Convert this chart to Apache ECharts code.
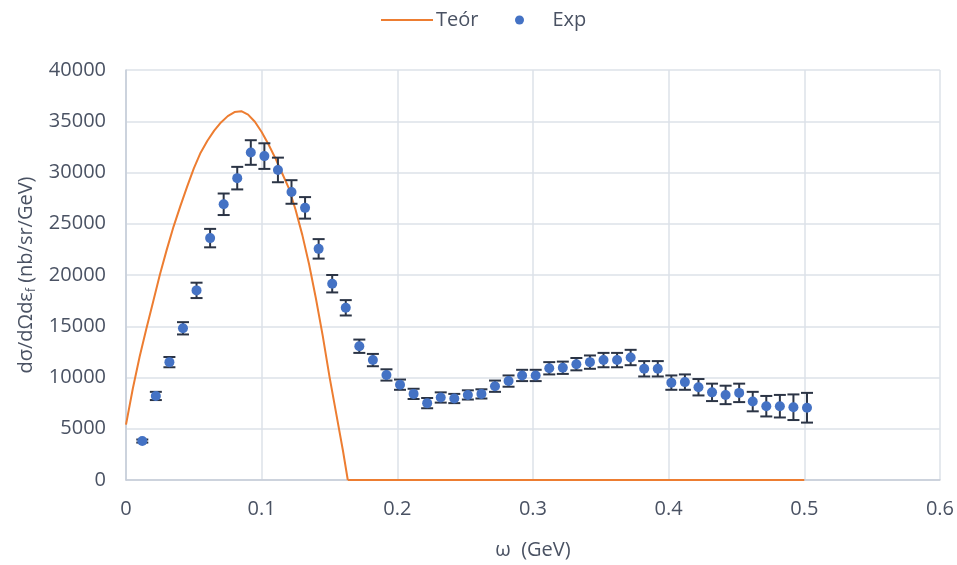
<!DOCTYPE html>
<html>
<head>
<meta charset="utf-8">
<script src="https://cdn.jsdelivr.net/npm/echarts@6/dist/echarts.min.js"></script>
<style>html,body{margin:0;padding:0;background:#fff}#c{width:957px;height:565px}</style>
</head>
<body>
<div id="c"></div>
<script>
const omega = [0.012,0.022,0.032,0.042,0.052,0.062,0.072,0.082,0.092,0.102,
  0.112,0.122,0.132,0.142,0.152,0.162,0.172,0.182,0.192,0.202,
  0.212,0.222,0.232,0.242,0.252,0.262,0.272,0.282,0.292,0.302,
  0.312,0.322,0.332,0.342,0.352,0.362,0.372,0.382,0.392,0.402,
  0.412,0.422,0.432,0.442,0.452,0.462,0.472,0.482,0.492,0.502];
const expVals = [3800,8200,11500,14800,18500,23600,26900,29450,31950,31600,
  30250,28100,26550,22550,19150,16800,13050,11700,10250,9300,
  8400,7500,8050,7950,8300,8400,9150,9650,10200,10200,
  10900,10950,11300,11500,11700,11700,11950,10850,10850,9500,
  9550,9050,8550,8300,8500,7650,7200,7200,7100,7050];
const expErr = [150,400,500,600,750,900,1050,1100,1200,1250,
  1200,1150,1050,950,850,750,650,600,550,500,
  500,500,500,450,450,450,550,550,550,550,
  600,600,600,650,700,700,750,750,750,700,
  750,800,850,900,900,950,1000,1100,1250,1450];
const theoryX = [0,0.005,0.01,0.015,0.02,0.025,0.03,0.035,0.04,0.045,0.05,0.055,0.06,0.065,0.07,0.075,0.08,0.085,
  0.09,0.095,0.10,0.105,0.11,0.115,0.12,0.125,0.13,0.135,0.14,0.145,0.15,0.155,0.16,0.1635];
const theoryY = [5400,8900,12000,14750,17400,20050,22450,24700,26700,28600,30400,31930,33100,34080,34880,35500,35900,35980,
  35650,34950,33950,32750,31420,29950,28470,26360,23890,21020,17710,14080,10080,6450,2800,0];
const theoryTailX = [0.1635,0.5];
const theoryTailY = [0,0];
const xTicks = [0,0.1,0.2,0.3,0.4,0.5,0.6];
const yTicks = [0,5000,10000,15000,20000,25000,30000,35000,40000];

const FONT = 'Open Sans';
const FS = 20;
const TXT = '#4a5263';
const chart = echarts.init(document.getElementById('c'));
const errData = omega.map((w,i)=>[w, expVals[i]-expErr[i], expVals[i]+expErr[i]]);
chart.setOption({
  animation:false,
  textStyle:{fontFamily:FONT},
  legend:[{
    left:376, top:5, itemWidth:52, itemHeight:10,
    textStyle:{fontFamily:FONT,fontSize:FS,color:TXT,padding:[0,0,0,-2]},
    data:[{name:'Teór', icon:'path://M0 0 L52 0 L52 2.2 L0 2.2 Z'}]
  },{
    left:510, top:5, itemWidth:28, itemHeight:9,
    textStyle:{fontFamily:FONT,fontSize:FS,color:TXT,padding:[0,0,0,14]},
    data:[{name:'Exp', icon:'circle'}]
  }],
  grid:{left:126,right:14,top:70,bottom:85,containLabel:false},
  xAxis:{
    type:'value', min:xTicks[0], max:xTicks[xTicks.length-1], interval:0.1,
    name:'ω  (GeV)', nameLocation:'middle', nameGap:60,
    nameTextStyle:{fontFamily:FONT,fontSize:FS,color:TXT},
    axisLine:{show:true,lineStyle:{color:'#c5ccd7',width:1.5}},
    axisTick:{show:false},
    axisLabel:{fontFamily:FONT,fontSize:FS,color:TXT,margin:19,formatter:v=>String(+v.toFixed(1))},
    splitLine:{show:true,lineStyle:{color:'#dde2e9',width:1.5}}
  },
  yAxis:{
    type:'value', min:yTicks[0], max:yTicks[yTicks.length-1], interval:5000,
    name:'{a|dσ/dΩdε}{b|f}{a| (nb/sr/GeV)}', nameLocation:'middle', nameGap:86,
    nameTextStyle:{fontFamily:FONT,fontSize:FS,color:TXT,
      rich:{a:{fontFamily:FONT,fontSize:FS,color:TXT,lineHeight:24},
            b:{fontFamily:FONT,fontSize:12,color:TXT,lineHeight:24,verticalAlign:'bottom'}}},
    axisLine:{show:true,lineStyle:{color:'#c5ccd7',width:1.5}},
    axisTick:{show:false},
    axisLabel:{fontFamily:FONT,fontSize:FS,color:TXT,margin:20,formatter:v=>String(v)},
    splitLine:{show:true,lineStyle:{color:'#dde2e9',width:1.5}}
  },
  series:[
    {name:'Teór', type:'line', data:theoryX.map((x,i)=>[x,theoryY[i]]), smooth:false, symbol:'none',
      lineStyle:{color:'#ed7d31',width:2,join:'round'}, itemStyle:{color:'#ed7d31'}, z:2},
    {name:'Teór', type:'line', data:theoryTailX.map((x,i)=>[x,theoryTailY[i]]), symbol:'none',
      lineStyle:{color:'#ed7d31',width:2}, itemStyle:{color:'#ed7d31'}, z:2},
    {name:'ExpErr', type:'custom', data:errData, z:3,
      encode:{x:0,y:[1,2]},
      renderItem:function(params, api){
        const x = api.value(0);
        const lo = api.coord([x, api.value(1)]);
        const hi = api.coord([x, api.value(2)]);
        const hw = 6;
        const st = {stroke:'#2b3445', lineWidth:2};
        return {type:'group', children:[
          {type:'line', shape:{x1:lo[0],y1:lo[1],x2:hi[0],y2:hi[1]}, style:st},
          {type:'line', shape:{x1:lo[0]-hw,y1:lo[1],x2:lo[0]+hw,y2:lo[1]}, style:st},
          {type:'line', shape:{x1:hi[0]-hw,y1:hi[1],x2:hi[0]+hw,y2:hi[1]}, style:st}
        ]};
      }
    },
    {name:'Exp', type:'scatter', data:omega.map((w,i)=>[w,expVals[i]]), symbol:'circle', symbolSize:10,
      itemStyle:{color:'#4472c4',opacity:1}, z:4}
  ]
});
</script>
</body>
</html>
